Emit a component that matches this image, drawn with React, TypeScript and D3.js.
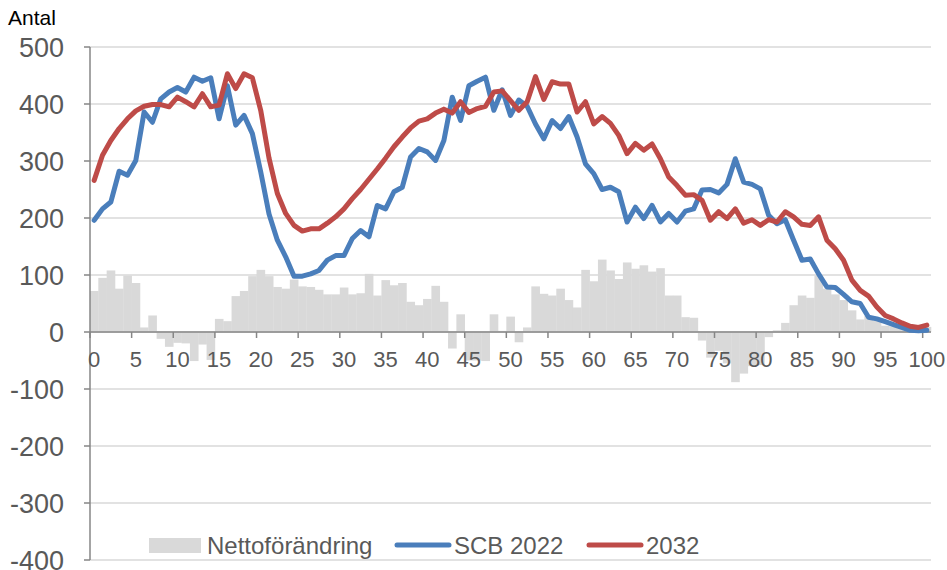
import React from "react";
import * as d3 from "d3";

const ages: number[] = d3.range(0, 101);

const nettoforandring: number[] = [
  72, 95, 108, 76, 99, 86, 8, 29, -12, -26,
  -19, -20, -51, -22, -49, 23, 19, 63, 72, 98,
  109, 98, 79, 76, 92, 80, 79, 74, 66, 66,
  78, 66, 68, 102, 64, 91, 82, 86, 53, 47,
  58, 81, 53, -29, 31, -50, -50, -51, 31, 2,
  27, -18, 8, 80, 67, 64, 76, 56, 43, 109,
  89, 127, 108, 93, 122, 111, 117, 106, 112, 64,
  64, 26, 25, -15, -45, -33, -55, -88, -73, -60,
  -58, -9, 3, 16, 47, 64, 60, 99, 76, 66,
  56, 38, 22, 28, 20, 11, 10, 8, 7, 6,
  9,
];

const scb2022: number[] = [
  196, 216, 228, 282, 275, 301, 386, 368, 409, 421,
  429, 421, 447, 440, 446, 374, 432, 363, 380, 348,
  281, 207, 161, 132, 98, 98, 102, 108, 126, 134,
  134, 164, 178, 167, 222, 216, 246, 254, 307, 322,
  316, 301, 336, 412, 371, 432, 440, 447, 389, 425,
  380, 407, 396, 365, 339, 371, 357, 378, 342, 295,
  278, 250, 254, 246, 193, 219, 199, 222, 193, 208,
  193, 212, 216, 249, 250, 244, 259, 304, 263, 259,
  251, 205, 190, 197, 161, 126, 128, 102, 79, 78,
  66, 53, 50, 26, 23, 18, 13, 8, 3, 2,
  3,
];

const y2032: number[] = [
  266, 310, 336, 357, 374, 388, 396, 399, 399, 395,
  412, 404, 395, 418, 395, 398, 453, 427, 453, 446,
  389, 305, 243, 208, 187, 177, 181, 181, 191, 202,
  216, 234, 250, 268, 286, 305, 325, 342, 358, 370,
  374, 384, 391, 384, 404, 385, 392, 396, 421, 423,
  406, 389, 404, 448, 408, 439, 435, 435, 386, 404,
  365, 378, 366, 345, 313, 331, 319, 330, 304, 272,
  257, 240, 241, 231, 196, 211, 199, 216, 191, 197,
  187, 197, 193, 211, 202, 189, 187, 202, 161, 146,
  126, 91, 73, 63, 44, 29, 23, 16, 10, 8,
  12,
];

const yTicks: number[] = [-400, -300, -200, -100, 0, 100, 200, 300, 400, 500];
const xTickAges: number[] = [0, 5, 10, 15, 20, 25, 30, 35, 40, 45, 50, 55, 60, 65, 70, 75, 80, 85, 90, 95, 100];

const legendLabels = { bar: "Nettoförändring", blue: "SCB 2022", red: "2032" };

const BLUE = "#4a7ebb";
const RED = "#be4b48";
const GRAY = "#d9d9d9";
const AXIS = "#868686";
const TEXT = "#595959";
const FONT = "'Liberation Sans', Arial, sans-serif";

export default function App() {
  const W = 947;
  const H = 570;
  const left = 90;
  const right = 931;
  const top = 47;
  const bottom = 560;

  const x = d3.scaleBand<number>().domain(ages).range([left, right]).padding(0);
  const bw = x.bandwidth();
  const cx = (a: number) => (x(a) as number) + bw / 2;
  const y = d3.scaleLinear().domain([-400, 500]).range([bottom, top]);

  const line = (vals: number[]) =>
    d3
      .line<number>()
      .x((_, i) => cx(ages[i]))
      .y((v) => y(v))(vals) as string;

  return (
    <svg
      width={W}
      height={H}
      style={{ position: "absolute", left: 0, top: 0, background: "#fff" }}
      fontFamily={FONT}
    >
      {yTicks.map((t) => (
        <line key={"g" + t} x1={left} x2={right} y1={y(t)} y2={y(t)} stroke={GRAY} strokeWidth={1.5} />
      ))}
      {nettoforandring.map((v, i) => (
        <rect
          key={"b" + i}
          x={x(ages[i]) as number}
          width={bw + 0.3}
          y={Math.min(y(v), y(0))}
          height={Math.abs(y(v) - y(0))}
          fill={GRAY}
        />
      ))}
      <line x1={left} x2={left} y1={top} y2={bottom} stroke={AXIS} strokeWidth={1.5} />
      {yTicks.map((t) => (
        <g key={"yt" + t}>
          <line x1={left - 6} x2={left} y1={y(t)} y2={y(t)} stroke={AXIS} strokeWidth={1.5} />
          <text x={64} y={y(t)} dy="0.36em" textAnchor="end" fontSize={27} fill={TEXT}>
            {t}
          </text>
        </g>
      ))}
      <line x1={left} x2={right} y1={y(0)} y2={y(0)} stroke={AXIS} strokeWidth={1.5} />
      {xTickAges.map((a) => (
        <g key={"xt" + a}>
          <line x1={x(a) as number} x2={x(a) as number} y1={y(0)} y2={y(0) + 6} stroke={AXIS} strokeWidth={1.5} />
          <text x={cx(a)} y={367} textAnchor="middle" fontSize={22} fill={TEXT}>
            {a}
          </text>
        </g>
      ))}
      <path d={line(scb2022)} fill="none" stroke={BLUE} strokeWidth={5} strokeLinejoin="round" strokeLinecap="round" />
      <path d={line(y2032)} fill="none" stroke={RED} strokeWidth={5} strokeLinejoin="round" strokeLinecap="round" />
      <text x={8} y={25} fontSize={21} fill="#000">
        Antal
      </text>
      <rect x={149} y={538} width={52} height={15} fill={GRAY} />
      <text x={207} y={554} fontSize={24} fill={TEXT}>
        {legendLabels.bar}
      </text>
      <line x1={397} x2={449} y1={545} y2={545} stroke={BLUE} strokeWidth={5} strokeLinecap="round" />
      <text x={454} y={554} fontSize={24} fill={TEXT}>
        {legendLabels.blue}
      </text>
      <line x1={589} x2={641} y1={545} y2={545} stroke={RED} strokeWidth={5} strokeLinecap="round" />
      <text x={646} y={554} fontSize={24} fill={TEXT}>
        {legendLabels.red}
      </text>
    </svg>
  );
}
